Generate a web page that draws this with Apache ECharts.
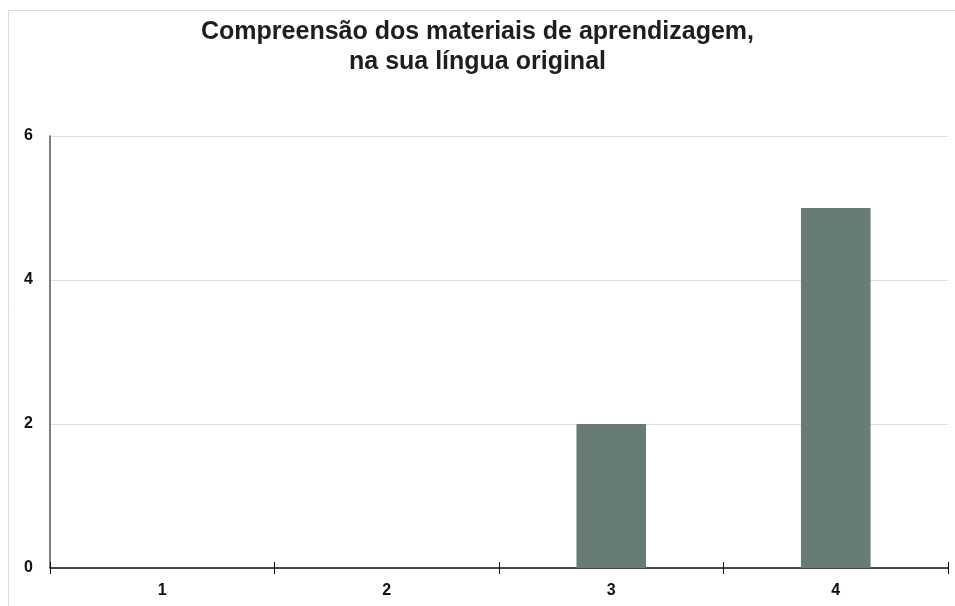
<!DOCTYPE html>
<html>
<head>
<meta charset="utf-8">
<script src="https://cdn.jsdelivr.net/npm/echarts@6/dist/echarts.min.js"></script>
<style>
  html, body { margin: 0; padding: 0; background: #fff; }
  #chart { width: 955px; height: 606px; }
</style>
</head>
<body>
<div id="chart"></div>
<script>
// chart data
const categories = ['1', '2', '3', '4']
const counts = [0, 0, 2, 5]
const yTicks = [0, 2, 4, 6]

const chart = echarts.init(document.getElementById('chart'))

chart.setOption({
  backgroundColor: '#fff',
  animation: false,
  textStyle: { fontFamily: '"Liberation Sans", Arial, sans-serif' },
  title: {
    text: 'Compreensão dos materiais de aprendizagem,\nna sua língua original',
    left: 'center',
    top: 12,
    textStyle: {
      fontSize: 25,
      fontWeight: 'bold',
      color: '#1e1e1e',
      lineHeight: 30
    }
  },
  graphic: [{
    type: 'rect',
    shape: { x: 8.5, y: 10.5, width: 960, height: 620 },
    style: { fill: 'none', stroke: '#dcdcdc', lineWidth: 1 },
    silent: true
  }],
  grid: {
    left: 50,
    right: 7,
    top: 136,
    bottom: 38
  },
  xAxis: [{
    type: 'category',
    data: categories,
    axisLine: { lineStyle: { color: '#111', width: 1.5 } },
    axisTick: { show: true, length: 6, lineStyle: { color: '#111' } },
    axisLabel: { color: '#111', fontSize: 16, fontWeight: 'bold', margin: 15 }
  }, {
    // inner half of the crossing ticks
    type: 'category',
    data: categories,
    position: 'bottom',
    axisLine: { show: false },
    axisTick: { show: true, inside: true, length: 6, lineStyle: { color: '#111' } },
    axisLabel: { show: false }
  }],
  yAxis: {
    type: 'value',
    min: yTicks[0],
    max: yTicks[yTicks.length - 1],
    interval: 2,
    axisLine: { show: true, lineStyle: { color: '#555', width: 1.5 } },
    axisTick: { show: false },
    axisLabel: { color: '#111', fontSize: 16, fontWeight: 'bold', margin: 17 },
    splitLine: { lineStyle: { color: '#e0e0e0' } }
  },
  series: [{
    type: 'bar',
    data: counts,
    barWidth: '31%',
    itemStyle: { color: '#687c76' }
  }]
})
</script>
</body>
</html>
